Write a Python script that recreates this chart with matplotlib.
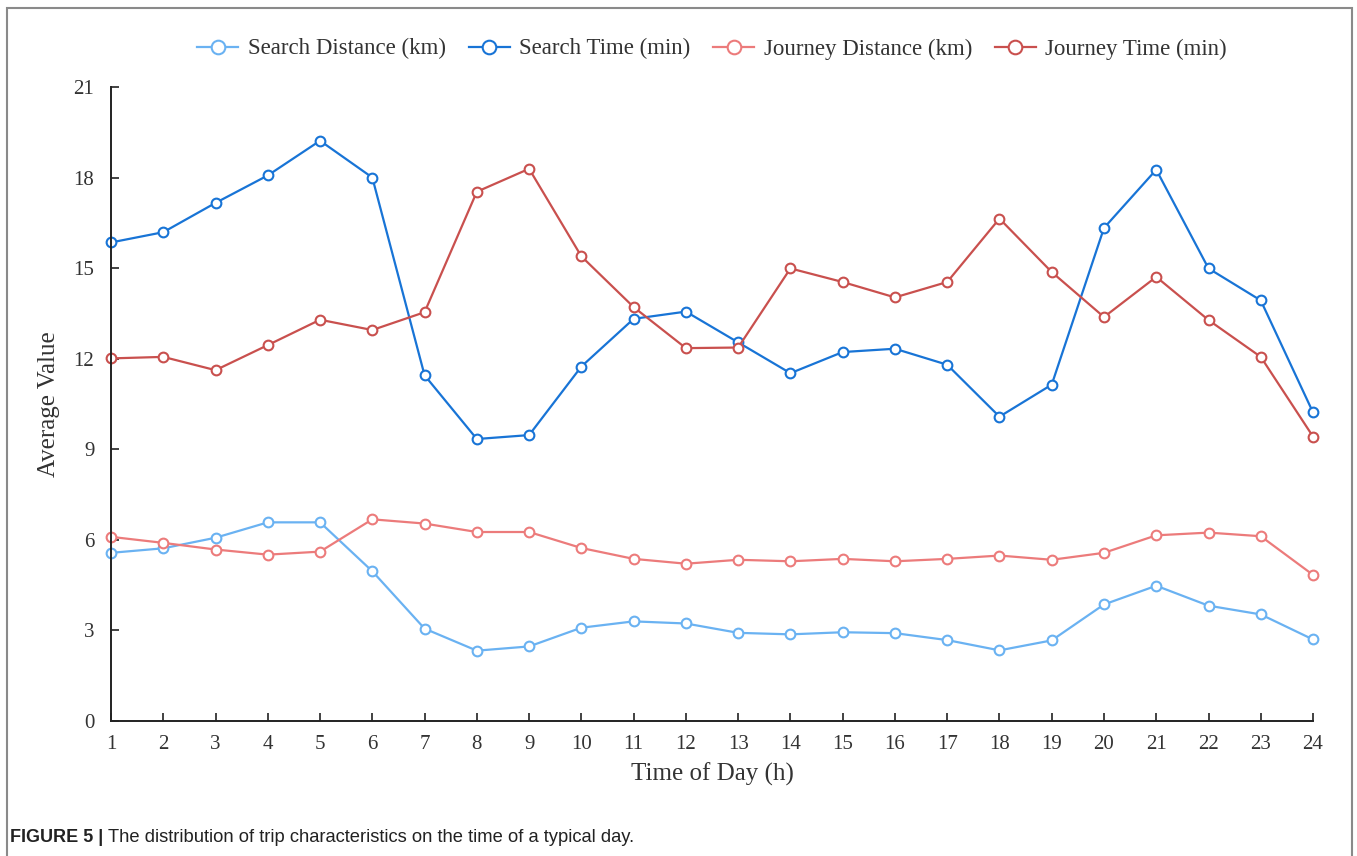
import matplotlib
matplotlib.use("Agg")
import matplotlib.pyplot as plt
from matplotlib.patches import Rectangle

hours = list(range(1, 25))

search_distance = [5.57, 5.72, 6.07, 6.58, 6.58, 4.96, 3.06, 2.33, 2.47, 3.09, 3.30, 3.23,
                   2.92, 2.87, 2.94, 2.91, 2.68, 2.34, 2.67, 3.86, 4.48, 3.82, 3.53, 2.70]
search_time = [15.85, 16.19, 17.16, 18.07, 19.22, 18.00, 11.45, 9.34, 9.47, 11.74, 13.32, 13.56,
               12.54, 11.52, 12.22, 12.33, 11.80, 10.08, 11.14, 16.33, 18.26, 14.99, 13.93, 10.22]
journey_distance = [6.10, 5.90, 5.68, 5.51, 5.61, 6.68, 6.54, 6.26, 6.26, 5.73, 5.37, 5.21,
                    5.34, 5.29, 5.37, 5.29, 5.37, 5.48, 5.34, 5.57, 6.15, 6.24, 6.12, 4.84]
journey_time = [12.01, 12.06, 11.62, 12.45, 13.29, 12.95, 13.54, 17.53, 18.29, 15.39, 13.71, 12.35,
                12.37, 14.99, 14.54, 14.03, 14.54, 16.64, 14.87, 13.38, 14.71, 13.28, 12.06, 9.42]

series = [
    ("Search Distance (km)", search_distance, "#6ab2f2"),
    ("Search Time (min)", search_time, "#1874d6"),
    ("Journey Distance (km)", journey_distance, "#ec7b7b"),
    ("Journey Time (min)", journey_time, "#c9504e"),
]
y_ticks = [0, 3, 6, 9, 12, 15, 18, 21]

plt.rcParams["font.family"] = ["Liberation Serif", "DejaVu Serif"]

fig = plt.figure(figsize=(13.57, 8.56), dpi=100)
ax = fig.add_axes([0.0818, 0.1577, 0.8858, 0.7407])

for label, vals, col in series:
    ax.plot(hours, vals, color=col, lw=1.6, marker="o", ms=7, mfc="white",
            mec=col, mew=1.5, label=label, clip_on=False)

ax.set_xlim(1, 24)
ax.set_ylim(0, 21)
ax.set_xticks(hours)
ax.set_yticks(y_ticks)
ax.tick_params(direction="in", length=6, width=1.2, labelsize=15, colors="#222222",
               labelcolor="#333333")
ax.tick_params(axis="x", pad=10)
ax.tick_params(axis="y", pad=12)
for s in ("top", "right"):
    ax.spines[s].set_visible(False)
for s in ("left", "bottom"):
    ax.spines[s].set_linewidth(1.4)
    ax.spines[s].set_color("#222222")

ax.set_xlabel("Time of Day (h)", fontsize=18, color="#333333", labelpad=6)
ax.set_ylabel("Average Value", fontsize=18, color="#333333", labelpad=10)

leg = ax.legend(loc="center", bbox_to_anchor=(0.5, 1.06), ncol=4, frameon=False,
                fontsize=16.5, handlelength=1.8, handletextpad=0.4, columnspacing=1.0,
                markerscale=1.4)
for t in leg.get_texts():
    t.set_color("#333333")

# outer frame and caption
fig.patches.append(Rectangle((7 / 1357, -0.01), 1345 / 1357, 1 - 8 / 856 + 0.01,
                             transform=fig.transFigure, fill=False,
                             edgecolor="#8a8a8a", lw=1.5))
cap_font = ["Liberation Sans", "DejaVu Sans"]
cap_y = 1 - 838 / 856
head = fig.text(10 / 1357, cap_y, "FIGURE 5 |", fontsize=13, fontweight="bold",
                family=cap_font, va="center", ha="left", color="#222222")
fig.canvas.draw()
bb = head.get_window_extent().transformed(fig.transFigure.inverted())
fig.text(bb.x1 + 5 / 1357, cap_y,
         "The distribution of trip characteristics on the time of a typical day.",
         fontsize=13.2, family=cap_font, va="center", ha="left", color="#222222")

fig.savefig("out.png", dpi=100)
